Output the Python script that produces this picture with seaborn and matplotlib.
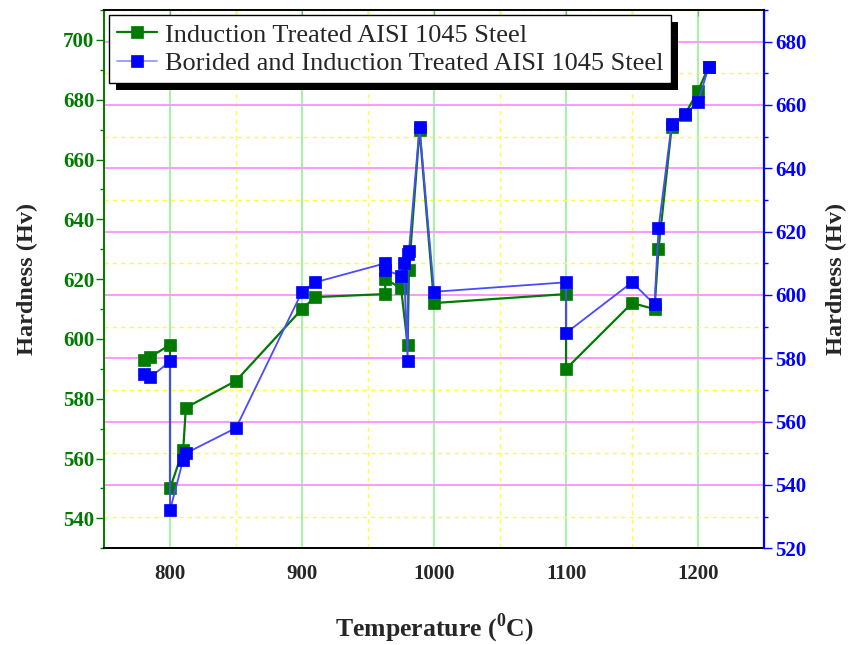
import numpy as np
import pandas as pd
import matplotlib
matplotlib.use("Agg")
import matplotlib.pyplot as plt
from matplotlib.ticker import MultipleLocator
from matplotlib.patches import Rectangle
import seaborn as sns

# Hardness readings taken off the original figure
temp_induction = [780, 785, 800, 800, 810, 812, 850, 900, 910, 963, 963, 975, 980, 981,
                  989, 1000, 1100, 1100, 1150, 1167, 1170, 1180, 1190, 1200, 1208]
hard_induction = [593, 594, 598, 550, 563, 577, 586, 610, 614, 615, 620, 617, 598, 623,
                  670, 612, 615, 590, 612, 610, 630, 671, 675, 683, 691]

temp_borided = [780, 785, 800, 800, 810, 812, 850, 900, 910, 963, 963, 975, 977, 980,
                980, 981, 989, 1000, 1100, 1100, 1150, 1167, 1170, 1180, 1190, 1200, 1208]
hard_borided = [575, 574, 579, 532, 548, 550, 558, 601, 604, 610, 608, 606, 610, 579,
                613, 614, 653, 601, 604, 588, 604, 597, 621, 654, 657, 661, 672]

label_induction = "Induction Treated AISI 1045 Steel"
label_borided = "Borided and Induction Treated AISI 1045 Steel"

df1 = pd.DataFrame({"Temperature": temp_induction, "Hardness": hard_induction})
df2 = pd.DataFrame({"Temperature": temp_borided, "Hardness": hard_borided})

sns.set_style("white")
plt.rcParams["font.family"] = ["Liberation Serif", "DejaVu Serif"]
plt.rcParams["mathtext.fontset"] = "custom"
plt.rcParams["mathtext.rm"] = "Liberation Serif"
plt.rcParams["mathtext.bf"] = "Liberation Serif:bold"

green = "#007a00"
blue = "#0000ff"

fig = plt.figure(figsize=(8.49, 6.45), dpi=100)
# base axes only carries the grid and the x axis
axg = fig.add_axes([0.1225, 0.150, 0.7775, 0.8345])
ax = axg.twinx()
ax2 = axg.twinx()
axg.set_zorder(0)
ax.set_zorder(1)
ax2.set_zorder(2)
ax.patch.set_visible(False)
ax2.patch.set_visible(False)

# grid (follows the right hand scale)
axg.set_xlim(750, 1250)
axg.set_ylim(520, 690)
axg.xaxis.set_major_locator(MultipleLocator(100))
axg.xaxis.set_minor_locator(MultipleLocator(50))
axg.yaxis.set_major_locator(MultipleLocator(20))
axg.yaxis.set_minor_locator(MultipleLocator(10))
axg.grid(which="major", axis="x", color="#8cf08c", linewidth=1.1, linestyle="-")
axg.grid(which="minor", axis="x", color="#ffff33", linewidth=1.0, linestyle=(0, (3, 3)))
axg.grid(which="major", axis="y", color="#ff90ff", linewidth=1.3, linestyle="-")
axg.grid(which="minor", axis="y", color="#ffff33", linewidth=1.0, linestyle=(0, (3, 3)))
axg.tick_params(axis="y", which="both", left=False, right=False,
                labelleft=False, labelright=False)
axg.tick_params(axis="x", which="both", direction="out", length=5, width=1,
                color="black", pad=6, labelsize=15)
for lbl in axg.get_xticklabels():
    lbl.set_fontweight("bold")
axg.set_xlabel("Temperature ($^{\\mathbf{0}}$C)", fontsize=18.5, fontweight="bold",
               labelpad=20)
for s in axg.spines.values():
    s.set_visible(False)

top = axg.secondary_xaxis("top")
top.xaxis.set_major_locator(MultipleLocator(50))
top.tick_params(axis="x", direction="in", length=4, labeltop=False, color="black")
top.spines["top"].set_visible(False)

# green series on the left scale
sns.lineplot(data=df1, x="Temperature", y="Hardness", ax=ax, sort=False,
             estimator=None, color=green, linewidth=1.6, marker="s", markersize=9,
             markeredgecolor=green, markeredgewidth=0.5, label=label_induction)
ax.yaxis.tick_left()
ax.yaxis.set_label_position("left")
ax.set_ylim(530, 710)
ax.yaxis.set_major_locator(MultipleLocator(20))
ax.yaxis.set_minor_locator(MultipleLocator(10))
ax.set_yticks([540, 560, 580, 600, 620, 640, 660, 680, 700])
ax.tick_params(axis="y", which="major", length=6, width=1, color=green, pad=1,
               labelsize=15, labelcolor=green)
ax.tick_params(axis="y", which="minor", length=3, width=1, color=green)
for lbl in ax.get_yticklabels():
    lbl.set_fontweight("bold")
ax.set_ylabel("Hardness (Hv)", fontsize=17.5, fontweight="bold", labelpad=18)
ax.spines["left"].set_color(green)
ax.spines["left"].set_linewidth(1.4)
ax.spines["bottom"].set_color("black")
ax.spines["bottom"].set_linewidth(1.4)
ax.spines["right"].set_visible(False)
ax.spines["top"].set_visible(False)

# blue series on the right scale
sns.lineplot(data=df2, x="Temperature", y="Hardness", ax=ax2, sort=False,
             estimator=None, color="#4a4aff", linewidth=1.3, marker="s", markersize=9,
             markerfacecolor=blue, markeredgecolor=blue, markeredgewidth=0.5,
             label=label_borided)
ax2.set_ylim(520, 690)
ax2.yaxis.set_major_locator(MultipleLocator(20))
ax2.yaxis.set_minor_locator(MultipleLocator(10))
ax2.tick_params(axis="y", which="major", length=6, width=1, color=blue, pad=2,
                labelsize=15, labelcolor=blue)
ax2.tick_params(axis="y", which="minor", length=3, width=1, color=blue)
for lbl in ax2.get_yticklabels():
    lbl.set_fontweight("bold")
ax2.set_ylabel("Hardness (Hv)", fontsize=17.5, fontweight="bold", labelpad=14)
ax2.spines["right"].set_color(blue)
ax2.spines["right"].set_linewidth(1.6)
ax2.spines["top"].set_color("black")
ax2.spines["top"].set_linewidth(1.4)
for side in ["left", "bottom"]:
    ax2.spines[side].set_visible(False)

for a in (ax, ax2):
    if a.get_legend() is not None:
        a.get_legend().remove()

h1, l1 = ax.get_legend_handles_labels()
h2, l2 = ax2.get_legend_handles_labels()
leg = ax2.legend(h1 + h2, l1 + l2, loc="upper left", fontsize=19, frameon=True,
                 fancybox=False, edgecolor="black", framealpha=1, borderaxespad=0.2,
                 handlelength=1.5, handletextpad=0.3, borderpad=0.3, labelspacing=0.2)
leg.get_frame().set_linewidth(1.0)
leg.legend_handles[1].set_color("#9a9aff")
leg.legend_handles[1].set_markerfacecolor(blue)
leg.legend_handles[1].set_markeredgecolor(blue)

# black drop shadow under the legend box
fig.canvas.draw()
bb = leg.get_window_extent()
shadow = Rectangle((bb.x0 + 7, bb.y0 - 7), bb.width, bb.height, transform=None,
                   facecolor="black", edgecolor="none", zorder=4.9, clip_on=False)
ax2.add_artist(shadow)

fig.savefig("out.png", dpi=100)
